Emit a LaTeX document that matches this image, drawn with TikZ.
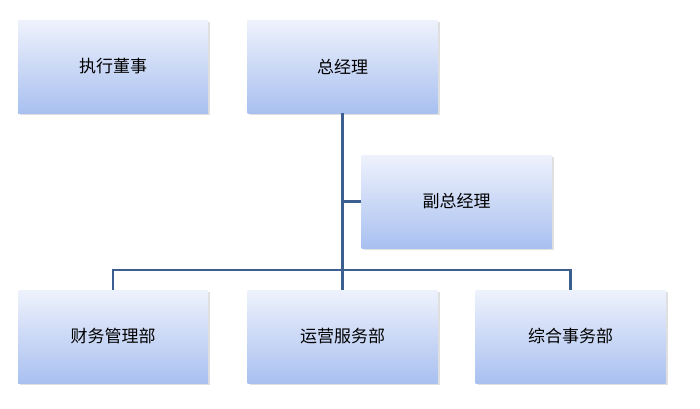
\documentclass[tikz,border=0pt]{standalone}
\usepackage{fontspec}
\newfontfamily\cjk{Noto Sans CJK SC}
\usetikzlibrary{shadows}
\definecolor{topc}{HTML}{EEF2FC}
\definecolor{botc}{HTML}{A9C0F0}
\definecolor{linec}{HTML}{3D5F8F}
\begin{document}
\begin{tikzpicture}[x=1pt,y=-1pt,
  box/.style={minimum width=190pt,minimum height=93pt,top color=topc,bottom color=botc,draw=none,
    drop shadow={shadow xshift=2pt,shadow yshift=-2pt,opacity=0.25},font=\cjk\fontsize{17}{20}\selectfont,inner sep=0pt},
  conn/.style={draw=linec,line width=2.2pt}]
\useasboundingbox (0,0) rectangle (700,408);
\node[box] (exec) at (113,66.5) {执行董事};
\node[box] (gm) at (342.5,66.5) {总经理};
\node[box] (vgm) at (456.5,201.5) {副总经理};
\node[box] (fin) at (113,336.5) {财务管理部};
\node[box] (ops) at (342.5,336.5) {运营服务部};
\node[box] (adm) at (570.5,336.5) {综合事务部};
\coordinate (j) at (342.5,270);
\draw[conn] (gm.south) -- (j);
\draw[conn] (vgm.west) -- (vgm.west -| gm.south);
\draw[conn] (fin.north) |- (j) -| (adm.north);
\draw[conn] (j) -- (ops.north);
\end{tikzpicture}
\end{document}
